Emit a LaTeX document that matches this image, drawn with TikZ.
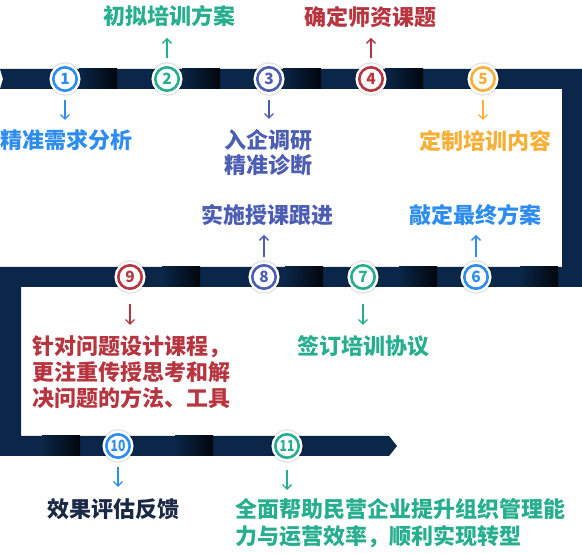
\documentclass[tikz,border=0pt]{standalone}
\usepackage{fontspec}
\newfontfamily\cjk{Noto Sans CJK SC}
\usetikzlibrary{arrows.meta}
\definecolor{navy}{HTML}{0A2648}
\definecolor{bandblack}{HTML}{02060D}
\definecolor{cblue}{HTML}{2D8CF0}
\definecolor{cteal}{HTML}{26AE8F}
\definecolor{cindigo}{HTML}{4C5DB4}
\definecolor{cred}{HTML}{B6353F}
\definecolor{corange}{HTML}{F6B037}
\definecolor{cdark}{HTML}{1B2846}
\begin{document}
\begin{tikzpicture}[x=1pt,y=-1pt,
  lbl/.style={font=\cjk\bfseries\fontsize{22}{26}\selectfont, inner sep=0pt, align=center, text=#1},
  num/.style={circle, draw=#1, line width=2.6pt, fill=white, minimum size=23.4pt, inner sep=0pt,
    text=#1, font=\cjk\bfseries\fontsize{15.5}{15.5}\selectfont,
    preaction={draw=black, draw opacity=0.12, line width=10pt},
    preaction={draw=white, line width=7.6pt}},
  arr/.style={-{Straight Barb[length=4.5pt,width=9pt]}, line width=1.3pt, draw=#1}
]
\useasboundingbox (0,0) rectangle (582,553);
% track
\fill[navy] (0,69) -- (582,69) -- (582,287) -- (21,287) -- (21,436) -- (389,436) -- (397,446)
  -- (389,456) -- (0,456) -- (0,267) -- (562,267) -- (562,89) -- (0,89) -- (3,79) -- cycle;
% gradients top
\foreach \e in {117,220,321,423} {\shade[left color=navy, right color=bandblack] (\e-38,69) rectangle (\e,89);}
% gradients middle
\foreach \e in {200,323,437,558} {\shade[left color=navy, right color=bandblack] (\e-38,267) rectangle (\e,287);}
% gradients bottom
\foreach \e in {80,213} {\shade[left color=navy, right color=bandblack] (\e-38,436) rectangle (\e,456);}
% circles
\node[num=cblue] (c1) at (65,79) {1};
\node[num=cteal] (c2) at (167,79) {2};
\node[num=cindigo] (c3) at (269,79) {3};
\node[num=cred] (c4) at (371,79) {4};
\node[num=corange] (c5) at (483,79) {5};
\node[num=cblue] (c6) at (476,277) {6};
\node[num=cteal] (c7) at (363,277) {7};
\node[num=cindigo] (c8) at (264,277) {8};
\node[num=cred] (c9) at (130,277) {9};
\node[num=cblue] (c10) at (118,446) {\scalebox{0.78}[1]{10}};
\node[num=cteal] (c11) at (287,446) {\scalebox{0.78}[1]{11}};
% labels
\node[lbl=cblue] (t1) at (67,140) {精准需求分析};
\node[lbl=cteal] (t2) at (169,16) {初拟培训方案};
\node[lbl=cindigo, font=\cjk\bfseries\fontsize{22}{25}\selectfont] (t3) at (268,152.5) {入企调研\\精准诊断};
\node[lbl=cred] (t4) at (370,17) {确定师资课题};
\node[lbl=corange] (t5) at (485,141) {定制培训内容};
\node[lbl=cblue] (t6) at (475,215) {敲定最终方案};
\node[lbl=cteal] (t7) at (363,346) {签订培训协议};
\node[lbl=cindigo] (t8) at (267,215) {实施授课跟进};
\node[lbl=cred, align=left, anchor=west] (t9) at (32,372.5) {针对问题设计课程，\\更注重传授思考和解\\决问题的方法、工具};
\node[lbl=cdark] (t10) at (114,509) {效果评估反馈};
\node[lbl=cteal, align=left, anchor=west, font=\cjk\bfseries\fontsize{22}{27}\selectfont] (t11) at (235,523.5) {全面帮助民营企业提升组织管理能\\力与运营效率，顺利实现转型};
% arrows
\draw[arr=cblue] (c1) ++(0,21) -- ++(0,20);
\draw[arr=cteal] (c2) ++(0,-21) -- ++(0,-20);
\draw[arr=cindigo] (c3) ++(0,21) -- ++(0,19);
\draw[arr=cred] (c4) ++(0,-21) -- ++(0,-20);
\draw[arr=corange] (c5) ++(0,21) -- ++(0,20);
\draw[arr=cblue] (c6) ++(0,-20) -- ++(0,-22);
\draw[arr=cteal] (c7) ++(0,27) -- ++(0,21);
\draw[arr=cindigo] (c8) ++(0,-20) -- ++(0,-22);
\draw[arr=cred] (c9) ++(0,27) -- ++(0,21);
\draw[arr=cblue] (c10) ++(0,21) -- ++(0,20);
\draw[arr=cteal] (c11) ++(0,24) -- ++(0,20);
\end{tikzpicture}
\end{document}
